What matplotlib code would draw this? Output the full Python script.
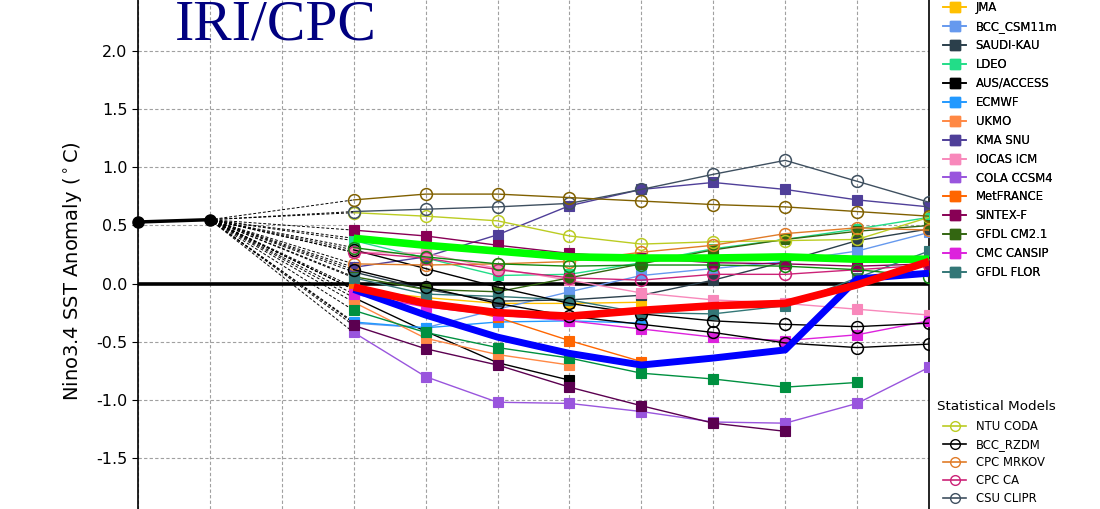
import numpy as np
import matplotlib
matplotlib.use('Agg')
import matplotlib.pyplot as plt
from matplotlib.lines import Line2D

# ---------------- data ----------------
obs_pos = [0, 1]
obs_vals = [0.53, 0.55]
fc_pos = [3, 4, 5, 6, 7, 8, 9, 10, 11]

# dynamical models (square markers)
jma = [-0.05, -0.12, -0.17, -0.17, -0.16]
bcc_csm11m = [-0.34, -0.38, -0.22, -0.07, 0.07, 0.13, 0.19, 0.28, 0.44]
saudi_kau = [0.10, -0.05, -0.15, -0.14, -0.10, 0.03, 0.19, 0.37, 0.47]
ldeo = [0.37, 0.22, 0.07, 0.08, 0.18, 0.30, 0.38, 0.47, 0.57]
aus_access = [-0.12, -0.41, -0.68, -0.83]
ecmwf = [-0.33, -0.38, -0.33, -0.32, -0.34]
ukmo = [-0.16, -0.47, -0.61, -0.70]
kma_snu = [0.14, 0.23, 0.42, 0.67, 0.81, 0.87, 0.81, 0.72, 0.66]
iocas_icm = [0.27, 0.26, 0.13, 0.03, -0.08, -0.14, -0.17, -0.22, -0.27]
cola_ccsm4 = [-0.42, -0.80, -1.02, -1.03, -1.10, -1.19, -1.20, -1.03, -0.72]
metfrance = [-0.05, -0.15, -0.29, -0.49, -0.67]
sintex_f = [0.46, 0.41, 0.33, 0.26, 0.22, 0.18, 0.17, 0.15, 0.17]
gfdl_cm21 = [0.06, -0.05, -0.07, 0.05, 0.17, 0.29, 0.38, 0.45, 0.50]
cmc_cansip = [-0.09, -0.20, -0.27, -0.32, -0.39, -0.46, -0.49, -0.44, -0.32]
gfdl_flor = [0.05, -0.09, -0.11, -0.14, -0.25, -0.26, -0.19, 0.05, 0.28]
ncep_cfsv2 = [-0.23, -0.42, -0.55, -0.64, -0.77, -0.82, -0.89, -0.85]
cs_iri_mm = [-0.36, -0.56, -0.70, -0.89, -1.05, -1.20, -1.27]

# statistical models (open circles)
ntu_coda = [0.61, 0.58, 0.54, 0.41, 0.34, 0.36, 0.37, 0.38, 0.57]
bcc_rzdm = [0.29, 0.13, -0.03, -0.17, -0.26, -0.32, -0.35, -0.37, -0.34]
cpc_mrkov = [0.17, 0.16, 0.17, 0.19, 0.27, 0.33, 0.43, 0.48, 0.46]
cpc_ca = [0.27, 0.22, 0.12, 0.05, 0.03, 0.08, 0.08, 0.12, 0.16]
csu_clipr = [0.62, 0.64, 0.66, 0.69, 0.81, 0.94, 1.06, 0.88, 0.70]
ucla_tcd = [0.72, 0.77, 0.77, 0.74, 0.71, 0.68, 0.66, 0.62, 0.58]
fsu_reg = [0.31, 0.23, 0.17, 0.15, 0.16, 0.16, 0.15, 0.12, 0.06]
ubc_nnet = [0.12, -0.03, -0.17, -0.28, -0.35, -0.42, -0.51, -0.55, -0.52]

# averages
avg_dyn = [-0.03, -0.17, -0.25, -0.28, -0.23, -0.19, -0.17, -0.01, 0.19]
avg_stat = [0.39, 0.33, 0.28, 0.23, 0.22, 0.22, 0.23, 0.21, 0.21]
avg_all = [-0.05, -0.27, -0.46, -0.60, -0.70, -0.64, -0.57, 0.04, 0.09]

dyn_models = [
    ('JMA', jma, '#FFC000'),
    ('BCC_CSM11m', bcc_csm11m, '#6699EE'),
    ('SAUDI-KAU', saudi_kau, '#2B3F4B'),
    ('LDEO', ldeo, '#22DD88'),
    ('AUS/ACCESS', aus_access, '#000000'),
    ('ECMWF', ecmwf, '#2299FF'),
    ('UKMO', ukmo, '#FF8844'),
    ('KMA SNU', kma_snu, '#4F3F99'),
    ('IOCAS ICM', iocas_icm, '#F888BB'),
    ('COLA CCSM4', cola_ccsm4, '#9955DD'),
    ('MetFRANCE', metfrance, '#FF6600'),
    ('SINTEX-F', sintex_f, '#880055'),
    ('GFDL CM2.1', gfdl_cm21, '#336611'),
    ('CMC CANSIP', cmc_cansip, '#DD22DD'),
    ('GFDL FLOR', gfdl_flor, '#337777'),
]
dyn_hidden = [
    ('NCEP CFSv2', ncep_cfsv2, '#009040'),
    ('CS-IRI-MM', cs_iri_mm, '#5B0050'),
]
stat_models = [
    ('NTU CODA', ntu_coda, '#BBCC22'),
    ('BCC_RZDM', bcc_rzdm, '#000000'),
    ('CPC MRKOV', cpc_mrkov, '#E07B28'),
    ('CPC CA', cpc_ca, '#CC2277'),
    ('CSU CLIPR', csu_clipr, '#3F5060'),
]
stat_hidden = [
    ('UCLA-TCD', ucla_tcd, '#806000'),
    ('FSU REG', fsu_reg, '#108810'),
    ('UBC NNET', ubc_nnet, '#000000'),
]

yticks = [-1.5, -1.0, -0.5, 0.0, 0.5, 1.0, 1.5, 2.0]

# ---------------- figure ----------------
W, H = 1100, 509
fig = plt.figure(figsize=(W / 100, H / 100), dpi=100)
ax = fig.add_axes([138 / W, 0, (929 - 138) / W, 1])
ax.set_xlim(0, 11)
ax.set_ylim(-1.938, 2.439)
ax.set_xticks(range(0, 12))
ax.set_xticklabels([])
ax.tick_params(axis='x', length=0)
ax.set_yticks(yticks)
ax.set_yticklabels([f'{v:.1f}' for v in yticks])
ax.tick_params(axis='y', labelsize=11.5, length=4, direction='out')
ax.grid(True, color='#a0a0a0', linestyle=(0, (3, 2)), linewidth=0.8)
ax.set_axisbelow(True)
for s in ['top', 'bottom']:
    ax.spines[s].set_visible(False)
ax.spines['left'].set_linewidth(1.2)
ax.spines['right'].set_linewidth(1.2)

ax.axhline(0, color='black', lw=2.6, zorder=2)

all_series = dyn_models + dyn_hidden + stat_models + stat_hidden
for name, vals, col in all_series + [('a', avg_dyn, 'r'), ('b', avg_stat, 'g'), ('c', avg_all, 'b')]:
    ax.plot([obs_pos[-1], fc_pos[0]], [obs_vals[-1], vals[0]], color='black',
            lw=0.7, linestyle=(0, (3, 2)), zorder=3)

for name, vals, col in dyn_models + dyn_hidden:
    ax.plot(fc_pos[:len(vals)], vals, color=col, lw=1.0, marker='s', ms=7,
            mec=col, mew=0.8, zorder=4)
for name, vals, col in stat_models + stat_hidden:
    ax.plot(fc_pos[:len(vals)], vals, color=col, lw=1.0, marker='o', ms=8.5,
            mfc='none', mec=col, mew=1.1, zorder=4)

ax.plot(fc_pos, avg_stat, color='#00FF00', lw=5.5, zorder=6, solid_capstyle='butt')
ax.plot(fc_pos, avg_all, color='#0000FF', lw=5, zorder=6, solid_capstyle='butt')
ax.plot(fc_pos, avg_dyn, color='#FF0000', lw=5.5, zorder=7, solid_capstyle='butt')

ax.plot(obs_pos, obs_vals, color='black', lw=2.5, marker='o', ms=8, zorder=8,
        clip_on=False)

# title and y label
fig.text(175 / W, 1 - 40 / H, 'IRI/CPC', family='Liberation Serif', fontsize=41.5,
         color='#000080', va='baseline', ha='left')
fig.text(72 / W, 1 - 271 / H, 'Nino3.4 SST Anomaly ($^\\circ$C)', rotation=90,
         fontsize=14, ha='center', va='center')

# legends
dyn_handles = [Line2D([], [], color=c, marker='s', ms=7, lw=1.2) for _, _, c in dyn_models]
leg1 = fig.legend(dyn_handles, [n for n, _, _ in dyn_models], loc='upper left',
                  bbox_to_anchor=(943 / W, 1 - 1.0 / H), frameon=False, fontsize=8.4,
                  borderpad=0, borderaxespad=0, labelspacing=0.51,
                  handlelength=2.0, handletextpad=0.8)
stat_handles = [Line2D([], [], color=c, marker='o', ms=7, mfc='none', lw=1.2)
                for _, _, c in stat_models]
leg2 = fig.legend(stat_handles, [n for n, _, _ in stat_models], loc='upper left',
                  bbox_to_anchor=(943 / W, 1 - 420 / H), frameon=False, fontsize=8.4,
                  borderpad=0, borderaxespad=0, labelspacing=0.43,
                  handlelength=2.0, handletextpad=0.8)
fig.add_artist(leg1)
fig.text(937 / W, 1 - 406 / H, 'Statistical Models', fontsize=9.7, ha='left', va='center')

fig.savefig('out.png', dpi=100)
